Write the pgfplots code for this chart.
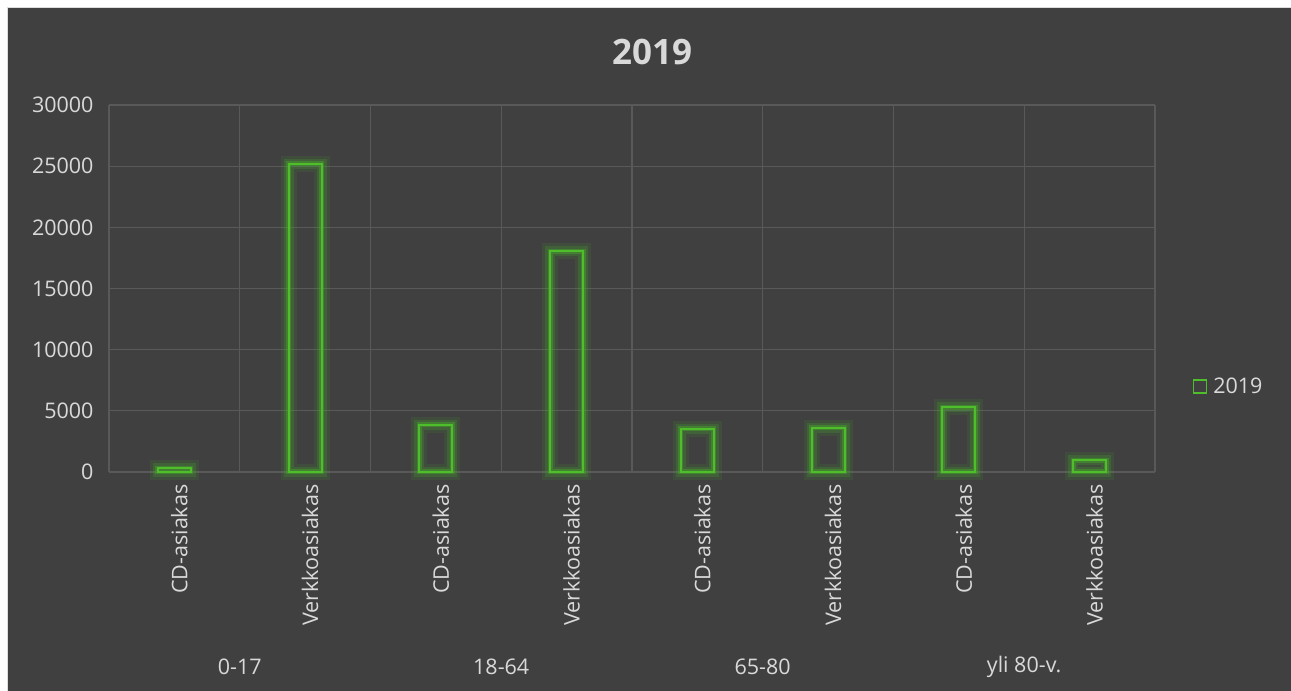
\documentclass[border=0pt]{standalone}
\usepackage{fontspec}
\setmainfont{Open Sans}
\usepackage{pgfplots}
\pgfplotsset{compat=1.18}
\definecolor{bg}{RGB}{64,64,64}
\definecolor{gridc}{RGB}{89,89,89}
\definecolor{txt}{RGB}{217,217,217}
\definecolor{bargreen}{RGB}{78,190,42}
\definecolor{glow}{RGB}{70,175,40}
\pgfplotstableread{
x y
0 300
1 25200
2 3850
3 18050
4 3520
5 3600
6 5300
7 950
}\counts
\begin{document}
\begin{tikzpicture}[x=1bp,y=1bp]
\useasboundingbox (0,0) rectangle (1291,691);
\fill[white] (0,0) rectangle (1291,691);
\fill[bg] (7,-5) rectangle (1296,683);
\draw[txt!90!white, line width=1.5bp] (7.5,-5) -- (7.5,683.5) -- (1296,683.5);
\node[txt, font=\fontsize{35bp}{40bp}\selectfont\bfseries] at (652,639) {2019};
\begin{axis}[
  at={(109bp,219bp)}, anchor=south west,
  scale only axis, width=1046bp, height=367bp,
  ybar, bar width=33bp, bar shift=0pt, clip=false,
  xmin=-0.5, xmax=7.5, ymin=0, ymax=30000,
  xtick={0,...,7},
  xticklabels={CD-asiakas,Verkkoasiakas,CD-asiakas,Verkkoasiakas,CD-asiakas,Verkkoasiakas,CD-asiakas,Verkkoasiakas},
  extra x ticks={-0.5,0.5,1.5,2.5,3.5,4.5,5.5,6.5,7.5},
  extra x tick labels={},
  extra x tick style={grid=major, major tick length=0},
  ytick={0,5000,...,30000},
  scaled y ticks=false,
  ymajorgrids,
  major grid style={gridc, line width=1.3bp},
  axis line style={draw=none},
  major tick length=0,
  tick label style={txt, font=\fontsize{21.5bp}{25bp}\selectfont},
  /pgf/number format/assume math mode=true,
  /pgf/number format/1000 sep={},
  yticklabel style={xshift=-12bp},
  xticklabel style={rotate=90, anchor=east, xshift=-9bp, yshift=-5bp},
  legend style={at={(1.036,0.234)}, anchor=west, draw=none, fill=none,
    text=txt, font=\fontsize{21.5bp}{25bp}\selectfont,
    legend cell align=left, inner sep=0pt},
  legend image code/.code={\draw[bargreen, line width=1.6bp] (0bp,-7bp) rectangle (13bp,6bp);},
]
\addplot[forget plot, draw=glow, draw opacity=0.12, fill=none, line width=16bp] table {\counts};
\addplot[forget plot, draw=glow, draw opacity=0.22, fill=none, line width=10bp] table {\counts};
\addplot[forget plot, draw=glow, draw opacity=0.4, fill=none, line width=5bp] table {\counts};
\addplot[draw=bargreen, fill=none, line width=2bp] table {\counts};
\addlegendentry{\hspace{4bp}2019}
\node[txt, font=\fontsize{21.5bp}{25bp}\selectfont] at (axis cs:0.5,0) [yshift=-195bp] {0-17};
\node[txt, font=\fontsize{21.5bp}{25bp}\selectfont] at (axis cs:2.5,0) [yshift=-195bp] {18-64};
\node[txt, font=\fontsize{21.5bp}{25bp}\selectfont] at (axis cs:4.5,0) [yshift=-195bp] {65-80};
\node[txt, font=\fontsize{21.5bp}{25bp}\selectfont] at (axis cs:6.5,0) [yshift=-195bp] {yli 80-v.};
\end{axis}
\end{tikzpicture}
\end{document}
